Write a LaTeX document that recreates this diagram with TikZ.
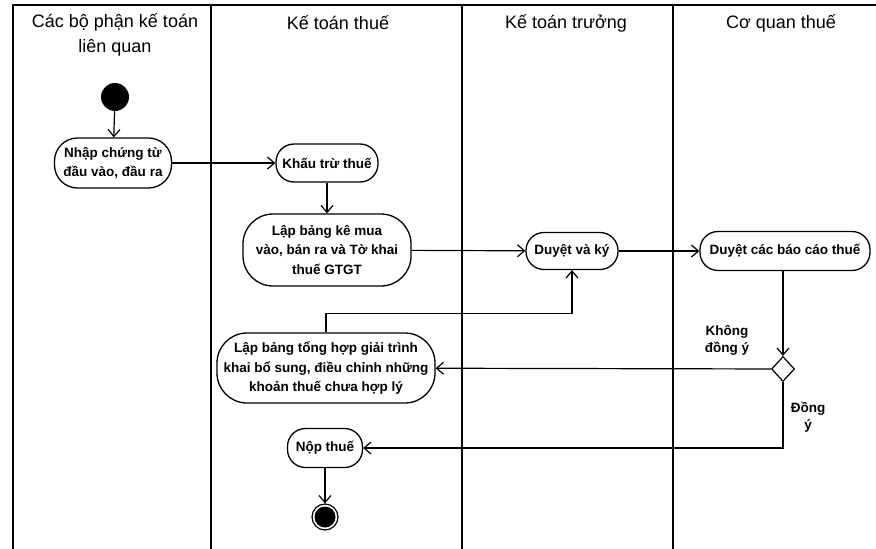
\documentclass[tikz,border=0pt]{standalone}
\usepackage{fontspec}
\setmainfont{Liberation Sans}
\usetikzlibrary{shapes.geometric,arrows.meta,positioning}

\begin{document}
\begin{tikzpicture}[x=1pt,y=-1pt,
  lane/.style={line width=1.3pt},
  head/.style={font=\fontsize{18}{25}\selectfont,align=center},
  act/.style={draw,line width=1.3pt,rounded corners=18pt,align=center,inner sep=3pt,
    font=\fontsize{13.5}{19.5}\selectfont\bfseries},
  flow/.style={line width=1.2pt,-{Straight Barb[length=7pt,width=12pt]}},
  guard/.style={font=\fontsize{13.5}{17}\selectfont\bfseries,align=center}]

  \useasboundingbox (0,0) rectangle (876,549);

  % lanes
  \draw[lane] (13,549) -- (13,5) -- (876,5);
  \foreach \x in {211,462,673}
    \draw[lane] (\x,5) -- (\x,549);

  \node[head] (h1) at (115,35) {Các bộ phận kế toán\\liên quan};
  \node[head] (h2) at (338,23) {Kế toán thuế};
  \node[head] (h3) at (566,23) {Kế toán trưởng};
  \node[head] (h4) at (781,23) {Cơ quan thuế};

  % activities
  \node[circle,fill=black,minimum size=28pt,inner sep=0pt] (start) at (115,97) {};
  \node[act,rounded corners=23pt,minimum width=117pt,minimum height=50pt] (nhap) at (113,163) {Nhập chứng từ\\đầu vào, đầu ra};
  \node[act,minimum width=102pt,minimum height=38pt] (khautru) at (327,163) {Khấu trừ thuế};
  \node[act,rounded corners=30pt,minimum width=168pt,minimum height=72pt] (lapbang) at (327,250) {Lập bảng kê mua\\vào, bán ra và Tờ khai\\thuế GTGT};
  \node[act,minimum width=92pt,minimum height=37pt] (duyet) at (572,251) {Duyệt và ký};
  \node[act,minimum width=170pt,minimum height=39pt] (baocao) at (785,251) {Duyệt các báo cáo thuế};
  \node[diamond,draw,line width=1.2pt,fill=white,minimum width=23pt,minimum height=25pt,inner sep=0pt] (chk) at (783,369) {};
  \node[act,rounded corners=30pt,minimum width=218pt,minimum height=70pt] (tonghop) at (326,368) {Lập bảng tổng hợp giải trình\\khai bổ sung, điều chỉnh những\\khoản thuế chưa hợp lý};
  \node[act,minimum width=75pt,minimum height=39pt] (nop) at (325,448) {Nộp thuế};
  \node[circle,draw,line width=1.2pt,minimum size=26pt,inner sep=0pt] (stop) at (325,517) {};
  \fill (stop) circle (10.5pt);

  \node[guard] (khong) at (727,340) {Không\\đồng ý};
  \node[guard] (dong) at (808,417) {Đồng\\ý};

  % transitions
  \draw[flow] (start) -- (nhap);
  \draw[flow] (nhap) -- (khautru);
  \draw[flow] (khautru) -- (lapbang);
  \draw[flow] (lapbang) -- (duyet);
  \draw[flow] (duyet) -- (baocao);
  \draw[flow] (baocao.south -| chk) -- (chk);
  \draw[flow] (chk) -- (tonghop);
  \draw[flow] (tonghop.north) -- ++(0,-19) -| (duyet.south);
  \draw[flow] (chk.south) |- (nop.east);
  \draw[flow] (nop) -- (stop);
\end{tikzpicture}
\end{document}
